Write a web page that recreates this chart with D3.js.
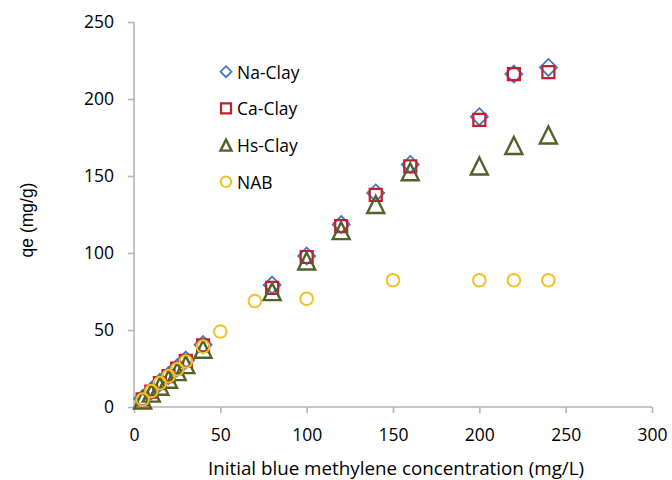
<!DOCTYPE html>
<html><head><meta charset="utf-8">
<script src="https://cdn.jsdelivr.net/npm/d3@7/dist/d3.min.js"></script>
<style>body{margin:0;background:#fff}svg{display:block}</style>
</head><body>
<svg id="c" width="672" height="480"></svg>
<script>
const seriesNames = ["Na-Clay", "Ca-Clay", "Hs-Clay", "NAB"];
const clayX = [5, 10, 15, 20, 25, 30, 40, 80, 100, 120, 140, 160, 200, 220, 240];
const naClay = [5.5, 10.5, 16, 20.5, 25.5, 30.5, 40.5, 79.2, 98, 118.5, 139, 157.5, 188.5, 216.2, 220.5];
const caClay = [5, 10, 15.5, 20, 25, 30, 40, 77.3, 97.4, 117.5, 137.8, 156.2, 186.4, 216.2, 217.5];
const hsClay = [4.5, 9, 13.5, 18, 23, 27.5, 37.5, 74.9, 94.8, 114.5, 131.5, 152.8, 156.5, 169.8, 176.6];
const nabX = [5, 10, 15, 20, 25, 30, 40, 50, 70, 100, 150, 200, 220, 240];
const nab = [4.8, 10.3, 15.5, 20, 24.5, 29.5, 39.2, 49, 68.8, 70.3, 82.3, 82.3, 82.3, 82.3];
const xTicks = [0, 50, 100, 150, 200, 250, 300];
const yTicks = [0, 50, 100, 150, 200, 250];
const xTitle = "Initial blue methylene concentration (mg/L)";
const yTitle = "qe (mg/g)";

const svg = d3.select("#c");
const x = d3.scaleLinear().domain([0, 300]).range([134, 652]);
const y = d3.scaleLinear().domain([0, 250]).range([407, 22]);
const axisColor = "#b4b4b4";
const font = "'Open Sans', sans-serif";

// axes
const xAxis = svg.append("g").attr("transform", "translate(0,407)")
  .call(d3.axisBottom(x).tickValues(xTicks).tickSize(6).tickPadding(16));
const yAxis = svg.append("g").attr("transform", "translate(134,0)")
  .call(d3.axisLeft(y).tickValues(yTicks).tickSize(6).tickPadding(14));
[xAxis, yAxis].forEach(a => {
  a.select(".domain").attr("stroke", axisColor).attr("stroke-width", 1.6);
  a.selectAll(".tick line").attr("stroke", axisColor).attr("stroke-width", 1.6);
  a.selectAll(".tick text").attr("fill", "#000").style("font-family", font).style("font-size", "17.5px");
});
xAxis.select(".domain").attr("d", `M${x(0)},0H${x(300)}`);
yAxis.select(".domain").attr("d", `M0,${y(0)}V${y(250)}`);
xAxis.selectAll(".tick text").attr("dy", "0.71em").attr("y", 22);

// titles
svg.append("text").attr("x", 396).attr("y", 468).attr("text-anchor", "middle")
  .attr("dominant-baseline", "central").style("font-family", font).style("font-size", "18.8px").text(xTitle);
svg.append("text").attr("transform", "translate(27,220) rotate(-90)").attr("text-anchor", "middle")
  .attr("dominant-baseline", "central").style("font-family", "'Liberation Sans', Arial, sans-serif").style("font-size", "17.5px").text(yTitle);

// symbol paths
const shapes = {
  diamond: r => `M0,${-r}L${r},0L0,${r}L${-r},0Z`,
  square: r => `M${-r},${-r}H${r}V${r}H${-r}Z`,
  triangle: r => `M0,${-r}L${r},${r}H${-r}Z`,
  circle: r => `M${r},0A${r},${r} 0 1 1 ${-r},0A${r},${r} 0 1 1 ${r},0Z`
};
const styles = [
  {shape: "diamond", color: "#4a74c4", r: 8.5, lr: 5.5, w: 1.8},
  {shape: "square", color: "#c0202c", r: 6, lr: 5, w: 2.2},
  {shape: "triangle", color: "#4f6228", r: 8.5, lr: 5.5, w: 2.4},
  {shape: "circle", color: "#f2c124", r: 6.3, lr: 5.2, w: 2}
];
const data = [
  clayX.map((v, i) => [v, naClay[i]]),
  clayX.map((v, i) => [v, caClay[i]]),
  clayX.map((v, i) => [v, hsClay[i]]),
  nabX.map((v, i) => [v, nab[i]])
];
data.forEach((d, k) => {
  const s = styles[k];
  svg.append("g").selectAll("path").data(d).join("path")
    .attr("transform", p => `translate(${x(p[0])},${y(p[1])})`)
    .attr("d", shapes[s.shape](s.r))
    .attr("fill", "none").attr("stroke", s.color).attr("stroke-width", s.w);
});

// legend
const leg = svg.append("g");
seriesNames.forEach((name, k) => {
  const s = styles[k];
  const cy = 71.7 + k * 36.7;
  leg.append("path").attr("transform", `translate(226,${cy})`).attr("d", shapes[s.shape](s.lr))
    .attr("fill", "none").attr("stroke", s.color).attr("stroke-width", s.w);
  leg.append("text").attr("x", 237).attr("y", cy).attr("dominant-baseline", "central")
    .style("font-family", font).style("font-size", "17.5px").text(name);
});
</script>
</body></html>
